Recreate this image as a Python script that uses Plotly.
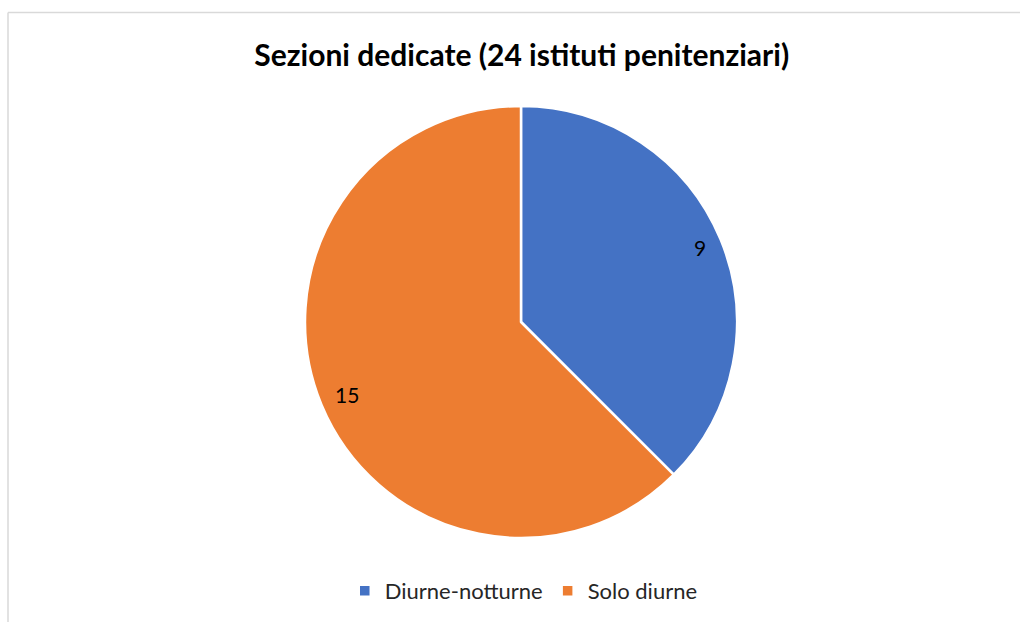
import math
import plotly.graph_objects as go

categories = ["Diurne-notturne", "Solo diurne"]
values = [9, 15]
colors = ["#4472C4", "#ED7D31"]
title_text = "Sezioni dedicate (24 istituti penitenziari)"

W, H = 1021, 622
cx, cy, r = 521, 322, 216

fig = go.Figure(go.Pie(
    labels=categories, values=values, sort=False, direction="clockwise",
    rotation=0, marker=dict(colors=colors, line=dict(color="white", width=2.5)),
    textinfo="none", hoverinfo="label+value",
    domain=dict(x=[(cx - r) / W, (cx + r) / W], y=[1 - (cy + r) / H, 1 - (cy - r) / H]),
))

# data labels placed inside each slice near its edge, at the mid-angle computed from the values
total = sum(values)
acc = 0
for v in values:
    txt = str(v)
    mid = (acc + v / 2) / total * 2 * math.pi
    acc += v
    s, c = math.sin(mid), math.cos(mid)
    half_w, half_h = len(txt) * 5.75, 8
    rad = 0.935 * r - (half_w * abs(s) + half_h * abs(c))
    px = cx + rad * s
    py = cy - rad * c
    fig.add_annotation(x=px / W, y=1 - py / H, xref="paper", yref="paper",
                       xanchor="center", yanchor="middle",
                       text=txt, showarrow=False,
                       font=dict(size=21, color="#000000", family="Lato"))

fig.add_shape(type="line", xref="paper", yref="paper", x0=8 / W, x1=8 / W, y0=0, y1=1 - 12.5 / H,
              line=dict(color="#d9d9d9", width=1.5))
fig.add_shape(type="line", xref="paper", yref="paper", x0=8 / W, x1=1020 / W, y0=1 - 12.5 / H, y1=1 - 12.5 / H,
              line=dict(color="#d9d9d9", width=1.5))

fig.update_layout(
    width=W, height=H, margin=dict(l=0, r=0, t=0, b=0),
    paper_bgcolor="white", plot_bgcolor="white",
    title=dict(text="<b>" + title_text + "</b>", x=0.511, xanchor="center", y=1 - 55 / H, yanchor="middle",
               font=dict(size=30, color="#000000", family="Lato")),
    legend=dict(orientation="h", x=0.513, xanchor="center", y=1 - 591 / H, yanchor="middle",
                font=dict(size=22, color="#262626", family="Lato"), itemwidth=30, tracegroupgap=0),
    showlegend=True,
)

fig.write_html("out.html", config={"displayModeBar": False},
               post_script="document.body.style.margin='0';document.body.style.overflow='hidden';")
